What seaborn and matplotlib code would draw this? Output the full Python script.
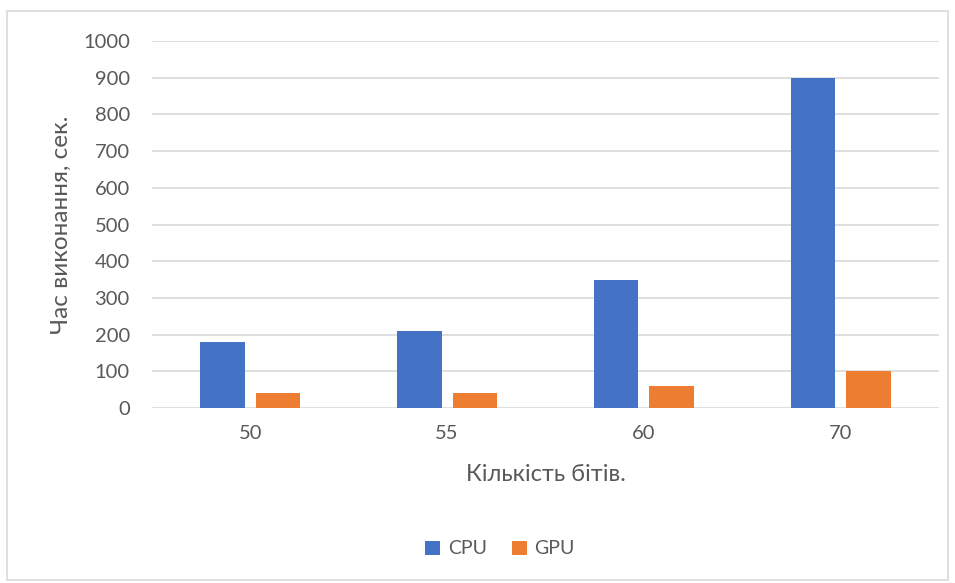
import matplotlib
matplotlib.use("Agg")
import matplotlib.pyplot as plt
import seaborn as sns
import pandas as pd
from matplotlib.patches import Rectangle

bits = ["50", "55", "60", "70"]
cpu_times = [180, 210, 350, 900]
gpu_times = [40, 40, 60, 100]
series_names = ["CPU", "GPU"]
y_ticks = list(range(0, 1001, 100))

df = pd.DataFrame({
    "bits": bits * 2,
    "time": cpu_times + gpu_times,
    "device": [series_names[0]] * len(bits) + [series_names[1]] * len(bits),
})

sns.set_theme(style="white")
plt.rcParams["font.family"] = ["Lato", "DejaVu Sans"]

text_color = "#595959"
grid_color = "#D9D9D9"

fig = plt.figure(figsize=(9.55, 5.83), dpi=100)
ax = fig.add_axes([152 / 955, 1 - 408 / 583, (939 - 152) / 955, (408 - 41) / 583])

sns.barplot(data=df, x="bits", y="time", hue="device",
            palette=["#4472C4", "#ED7D31"], width=0.564, gap=0.2,
            saturation=1, linewidth=0, ax=ax, legend=True)

ax.set_ylim(0, 1000)
ax.set_xlim(-0.5, len(bits) - 0.5)
ax.set_yticks(y_ticks)
ax.set_yticklabels([str(v) for v in y_ticks])
ax.yaxis.grid(True, color=grid_color, linewidth=1.2)
ax.set_axisbelow(True)
for s in ax.spines.values():
    s.set_visible(False)
ax.tick_params(axis="both", length=0, labelsize=14.5, colors=text_color)
ax.tick_params(axis="y", pad=16)
ax.tick_params(axis="x", pad=12)

ax.set_xlabel("Кількість бітів.", fontsize=17, color=text_color, labelpad=16)
ax.set_ylabel("Час виконання, сек.", fontsize=17.5, color=text_color, labelpad=8)

handles, labels = ax.get_legend_handles_labels()
ax.get_legend().remove()
fig.legend(handles, labels, loc="center", bbox_to_anchor=(500 / 955, 1 - 549 / 583),
           ncol=2, frameon=False, fontsize=14, labelcolor=text_color,
           handlelength=0.75, handleheight=0.75, handletextpad=0.4, columnspacing=1.3)

fig.patches.append(Rectangle((7 / 955, 1 - 580 / 583), (948 - 7) / 955, (580 - 11) / 583,
                             transform=fig.transFigure, fill=False,
                             edgecolor=grid_color, linewidth=1.2))

fig.savefig("out.png", dpi=100, facecolor="white")
